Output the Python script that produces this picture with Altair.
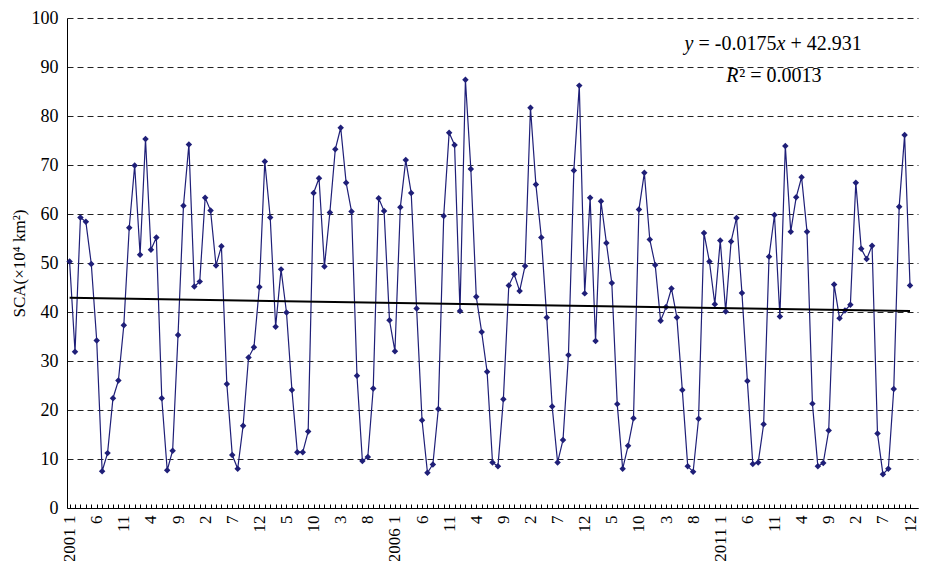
import json
import altair as alt
import pandas as pd

# Monthly snow cover area (x10^4 km^2), 2001-01 .. 2013-12
sca_2001 = [50.3, 31.9, 59.3, 58.4, 49.8, 34.2, 7.5, 11.2, 22.4, 26.0, 37.3, 57.2]
sca_2002 = [69.9, 51.7, 75.3, 52.7, 55.2, 22.4, 7.7, 11.7, 35.3, 61.7, 74.2, 45.2]
sca_2003 = [46.2, 63.3, 60.7, 49.5, 53.4, 25.3, 10.8, 8.0, 16.8, 30.7, 32.8, 45.1]
sca_2004 = [70.7, 59.3, 37.0, 48.7, 39.9, 24.1, 11.4, 11.4, 15.6, 64.3, 67.3, 49.3]
sca_2005 = [60.3, 73.2, 77.6, 66.4, 60.5, 27.0, 9.6, 10.4, 24.4, 63.2, 60.6, 38.3]
sca_2006 = [32.0, 61.4, 71.0, 64.3, 40.7, 17.9, 7.2, 8.9, 20.2, 59.6, 76.6, 74.1]
sca_2007 = [40.2, 87.4, 69.2, 43.1, 35.9, 27.8, 9.3, 8.5, 22.2, 45.4, 47.7, 44.3]
sca_2008 = [49.4, 81.7, 66.0, 55.2, 38.9, 20.7, 9.3, 13.9, 31.2, 68.9, 86.2, 43.8]
sca_2009 = [63.3, 34.1, 62.6, 54.1, 45.9, 21.2, 8.0, 12.7, 18.3, 60.9, 68.4, 54.8]
sca_2010 = [49.6, 38.2, 41.0, 44.8, 38.9, 24.1, 8.5, 7.4, 18.2, 56.1, 50.3, 41.6]
sca_2011 = [54.6, 40.1, 54.4, 59.2, 43.9, 25.9, 9.0, 9.3, 17.1, 51.3, 59.8, 39.1]
sca_2012 = [73.9, 56.4, 63.4, 67.5, 56.4, 21.3, 8.5, 9.2, 15.8, 45.6, 38.7, 40.3]
sca_2013 = [41.5, 66.4, 52.9, 50.8, 53.5, 15.2, 6.9, 8.0, 24.3, 61.5, 76.1, 45.4]

tick_labels = ["2001 1", "6", "11", "4", "9", "2", "7", "12", "5", "10", "3", "8",
               "2006 1", "6", "11", "4", "9", "2", "7", "12", "5", "10", "3", "8",
               "2011 1", "6", "11", "4", "9", "2", "7", "12"]

# Trend line from the printed equation y = -0.0175x + 42.931
trend_slope = -0.0175
trend_intercept = 42.931

# Equation annotation: pieces (text, italic?, pixel offset from line start)
eq_line1 = [("y", True, 0), ("= -0.0175", False, 14), ("x", True, 92), ("+ 42.931", False, 106)]
eq_line2 = [("R", True, 0), ("\u00b2 = 0.0013", False, 13)]
eq_anchor_x = [114.4, 122.1]
eq_anchor_y = [94.7, 88.2]

values = (sca_2001 + sca_2002 + sca_2003 + sca_2004 + sca_2005 + sca_2006 + sca_2007
          + sca_2008 + sca_2009 + sca_2010 + sca_2011 + sca_2012 + sca_2013)
months = list(range(1, len(values) + 1))
df = pd.DataFrame({"month": months, "sca": values})

trend_x = [months[0], months[-1]]
df_trend = pd.DataFrame({"month": trend_x,
                         "sca": [trend_slope * m + trend_intercept for m in trend_x]})

FONT = "Liberation Serif"
NAVY = "#1f1f78"

x_scale = alt.Scale(domain=[0.52, 157.47], nice=False, zero=False)
y_scale = alt.Scale(domain=[0, 100], nice=False, zero=True)

tick_values = months[::5]
label_expr = json.dumps(tick_labels) + "[round((datum.value - 1) / 5)]"

x_axis = alt.Axis(values=tick_values, labelExpr=label_expr, labelAngle=270,
                  labelAlign="right", labelBaseline="middle", labelPadding=7,
                  ticks=False, domain=True, domainColor="black", domainWidth=1,
                  grid=False, title=None, labelFont=FONT, labelFontSize=17,
                  labelColor="black", labelOverlap=False, orient="bottom")

y_axis = alt.Axis(values=list(range(0, 101, 10)), title="SCA(\u00d710\u2074 km\u00b2)",
                  grid=True, gridDash=[6, 4], gridColor="#222222", gridWidth=1,
                  ticks=False, domain=True, domainColor="black", domainWidth=1,
                  labelFont=FONT, labelFontSize=18, labelColor="black", labelPadding=9,
                  titleFont=FONT, titleFontSize=17, titleFontWeight="normal",
                  titleColor="black", titlePadding=3, orient="left")

minor_axis = alt.Axis(values=months, labels=False, domain=False, ticks=True,
                      tickSize=4, tickColor="black", tickWidth=1, offset=-4,
                      grid=False, title=None, orient="bottom")

line = alt.Chart(df).mark_line(
    color=NAVY, strokeWidth=1.2,
    point=alt.OverlayMarkDef(shape="diamond", size=42, filled=True, color=NAVY),
).encode(
    x=alt.X("month:Q", scale=x_scale, axis=x_axis),
    y=alt.Y("sca:Q", scale=y_scale, axis=y_axis),
)

trend = alt.Chart(df_trend).mark_line(color="black", strokeWidth=2).encode(
    x=alt.X("month:Q", scale=x_scale, axis=minor_axis),
    y=alt.Y("sca:Q", scale=y_scale, axis=None),
)

text_layers = []
for pieces, ax, ay in [(eq_line1, eq_anchor_x[0], eq_anchor_y[0]),
                       (eq_line2, eq_anchor_x[1], eq_anchor_y[1])]:
    for txt, italic, off in pieces:
        d = pd.DataFrame({"month": [ax], "sca": [ay], "label": [txt]})
        text_layers.append(
            alt.Chart(d).mark_text(
                font=FONT, fontSize=20, color="black", align="left",
                baseline="middle", dx=off,
                fontStyle="italic" if italic else "normal",
            ).encode(
                x=alt.X("month:Q", scale=x_scale, axis=None),
                y=alt.Y("sca:Q", scale=y_scale, axis=None),
                text="label:N",
            )
        )

chart = alt.layer(line, trend, *text_layers).resolve_axis(
    x="independent", y="independent"
).properties(
    width=851, height=490,
    padding={"left": 59, "top": 10, "right": 2, "bottom": 53},
    autosize=alt.AutoSizeParams(type="none"),
    background="white",
).configure_view(stroke=None)

chart.save("out.html", embed_options={"renderer": "svg", "actions": False})
